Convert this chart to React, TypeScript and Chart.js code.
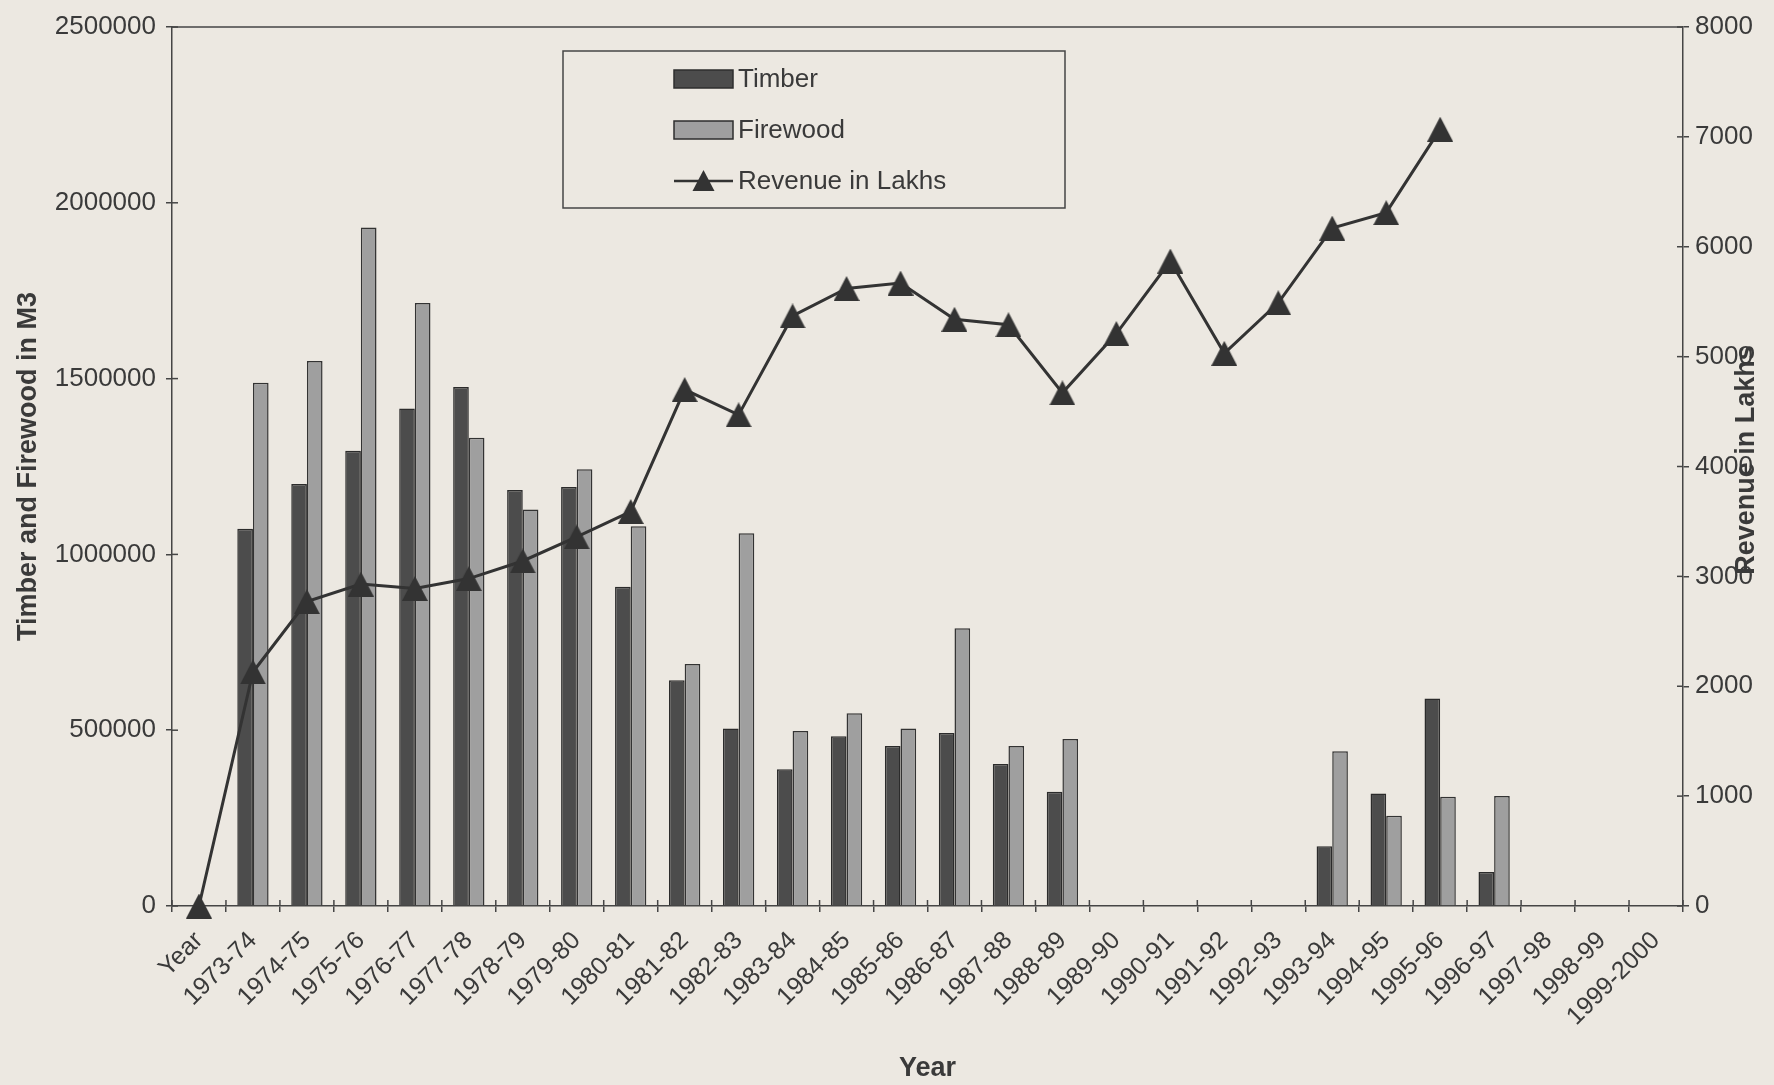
import React, { useEffect, useRef } from 'react';
import { Chart, registerables } from 'chart.js';

Chart.register(...registerables);

const categories = [
  'Year', '1973-74', '1974-75', '1975-76', '1976-77', '1977-78', '1978-79', '1979-80',
  '1980-81', '1981-82', '1982-83', '1983-84', '1984-85', '1985-86', '1986-87', '1987-88',
  '1988-89', '1989-90', '1990-91', '1991-92', '1992-93', '1993-94', '1994-95', '1995-96',
  '1996-97', '1997-98', '1998-99', '1999-2000',
];

const timber = [
  0, 1073000, 1200000, 1295000, 1415000, 1476000, 1183000, 1192000,
  908000, 642000, 505000, 389000, 483000, 455000, 492000, 404000,
  325000, 0, 0, 0, 0, 170000, 320000, 590000,
  97000, 0, 0, 0,
];

const firewood = [
  0, 1488000, 1550000, 1930000, 1715000, 1332000, 1128000, 1242000,
  1080000, 688000, 1060000, 498000, 548000, 505000, 790000, 455000,
  475000, 0, 0, 0, 0, 440000, 257000, 311000,
  313000, 0, 0, 0,
];

const revenue = [
  0, 2130, 2770, 2930, 2890, 2980, 3140, 3360,
  3590, 4700, 4470, 5370, 5620, 5670, 5340, 5290,
  4670, 5210, 5870, 5030, 5490, 6170, 6310, 7070,
  null, null, null, null,
];

const leftTitle = 'Timber and Firewood in M3';
const rightTitle = 'Revenue in Lakhs';
const xTitle = 'Year';

const FONT = '"Liberation Sans", Arial, sans-serif';
const TEXT = '#3a3a3a';
const AXIS = '#454545';
const TIMBER_COLOR = '#4c4c4c';
const FIREWOOD_COLOR = '#9f9f9f';
const LINE_COLOR = '#333333';
const PAPER = '#ece8e1';

function makeTriangle(w: number, h: number): HTMLCanvasElement {
  const c = document.createElement('canvas');
  c.width = w;
  c.height = h;
  const g = c.getContext('2d')!;
  g.fillStyle = LINE_COLOR;
  g.beginPath();
  g.moveTo(w / 2, 0);
  g.lineTo(w, h);
  g.lineTo(0, h);
  g.closePath();
  g.fill();
  return c;
}

const decorPlugin = {
  id: 'decor',
  afterDraw(chart: any) {
    const { ctx, chartArea: a, scales } = chart;
    ctx.save();
    ctx.strokeStyle = AXIS;
    ctx.lineWidth = 1.5;
    const seg = (x1: number, y1: number, x2: number, y2: number) => {
      ctx.beginPath();
      ctx.moveTo(x1, y1);
      ctx.lineTo(x2, y2);
      ctx.stroke();
    };
    // top border of plot
    seg(a.left, a.top, a.right, a.top);
    // inner halves of tick marks
    const xs = scales.x;
    const n = categories.length;
    const step = xs.getPixelForValue(1) - xs.getPixelForValue(0);
    for (let i = 0; i <= n; i++) {
      const px = xs.getPixelForValue(0) - step / 2 + i * step;
      seg(px, a.bottom, px, a.bottom - 6);
    }
    scales.y.ticks.forEach((t: any) => {
      const py = scales.y.getPixelForValue(t.value);
      seg(a.left, py, a.left + 6, py);
    });
    scales.y1.ticks.forEach((t: any) => {
      const py = scales.y1.getPixelForValue(t.value);
      seg(a.right - 6, py, a.right, py);
    });

    // right axis title (reads bottom to top)
    ctx.fillStyle = TEXT;
    ctx.font = `bold 27px ${FONT}`;
    ctx.textAlign = 'center';
    ctx.textBaseline = 'middle';
    ctx.save();
    ctx.translate(1747, 460);
    ctx.rotate(-Math.PI / 2);
    ctx.fillText(rightTitle, 0, 0);
    ctx.restore();

    // legend box
    const bx = 563, by = 51, bw = 502, bh = 157;
    ctx.lineWidth = 1.5;
    ctx.strokeStyle = AXIS;
    ctx.strokeRect(bx, by, bw, bh);
    const ds = chart.data.datasets;
    const rows = [79, 130, 181];
    const sx = 674, sw = 59, sh = 18;
    ctx.font = `26px ${FONT}`;
    ctx.textAlign = 'left';
    ctx.textBaseline = 'middle';
    ds.forEach((d: any, i: number) => {
      const cy = rows[i];
      if (d.type === 'line') {
        ctx.strokeStyle = LINE_COLOR;
        ctx.lineWidth = 2.5;
        seg(sx, cy, sx + sw, cy);
        ctx.fillStyle = LINE_COLOR;
        ctx.beginPath();
        ctx.moveTo(sx + sw / 2, cy - 11);
        ctx.lineTo(sx + sw / 2 + 11, cy + 10);
        ctx.lineTo(sx + sw / 2 - 11, cy + 10);
        ctx.closePath();
        ctx.fill();
      } else {
        ctx.fillStyle = d.backgroundColor;
        ctx.fillRect(sx, cy - sh / 2, sw, sh);
        ctx.strokeStyle = '#2e2e2e';
        ctx.lineWidth = 1.5;
        ctx.strokeRect(sx, cy - sh / 2, sw, sh);
      }
      ctx.fillStyle = TEXT;
      ctx.fillText(d.label, 738, cy + 1);
    });
    ctx.restore();
  },
};

export default function App() {
  const ref = useRef<HTMLCanvasElement | null>(null);

  useEffect(() => {
    if (!ref.current) return;
    const tri = makeTriangle(26, 25);
    const chart = new Chart(ref.current, {
      type: 'bar',
      data: {
        labels: categories,
        datasets: [
          {
            type: 'bar',
            label: 'Timber',
            data: timber,
            backgroundColor: TIMBER_COLOR,
            borderColor: '#2b2b2b',
            borderWidth: 1.5,
            yAxisID: 'y',
            order: 1,
            categoryPercentage: 0.58,
            barPercentage: 1.0,
          },
          {
            type: 'bar',
            label: 'Firewood',
            data: firewood,
            backgroundColor: FIREWOOD_COLOR,
            borderColor: '#333333',
            borderWidth: 1.5,
            yAxisID: 'y',
            order: 1,
            categoryPercentage: 0.58,
            barPercentage: 1.0,
          },
          {
            type: 'line',
            label: 'Revenue in Lakhs',
            data: revenue,
            borderColor: LINE_COLOR,
            borderWidth: 3,
            backgroundColor: LINE_COLOR,
            pointStyle: tri,
            pointRadius: 13,
            pointBackgroundColor: LINE_COLOR,
            pointBorderColor: LINE_COLOR,
            tension: 0,
            spanGaps: false,
            clip: false,
            yAxisID: 'y1',
            order: 0,
          } as any,
        ],
      },
      options: {
        responsive: false,
        animation: false,
        events: [],
        layout: { padding: { top: 27, right: 0, bottom: 0, left: 0 } },
        plugins: {
          legend: { display: false },
          tooltip: { enabled: false },
        },
        scales: {
          x: {
            offset: true,
            grid: {
              offset: true,
              drawOnChartArea: false,
              drawTicks: true,
              tickLength: 6,
              color: AXIS,
              lineWidth: 1.5,
            },
            border: { display: true, color: AXIS, width: 1.5 },
            ticks: {
              autoSkip: false,
              minRotation: 45,
              maxRotation: 45,
              padding: 14,
              color: TEXT,
              font: { family: FONT, size: 25 },
            },
            title: {
              display: true,
              text: xTitle,
              color: TEXT,
              font: { family: FONT, size: 27, weight: 'bold' },
              padding: { top: 0, bottom: 0 },
            },
            afterFit: (s: any) => { s.height = 179; },
          },
          y: {
            position: 'left',
            min: 0,
            max: 2500000,
            ticks: {
              stepSize: 500000,
              color: TEXT,
              padding: 10,
              font: { family: FONT, size: 26 },
              callback: (v: any) => String(v),
            },
            grid: {
              drawOnChartArea: false,
              drawTicks: true,
              tickLength: 6,
              color: AXIS,
              lineWidth: 1.5,
            },
            border: { display: true, color: AXIS, width: 1.5 },
            title: {
              display: true,
              text: leftTitle,
              color: TEXT,
              font: { family: FONT, size: 27, weight: 'bold' },
              padding: { top: 12, bottom: 0 },
            },
            afterFit: (s: any) => { s.width = 172; },
          },
          y1: {
            position: 'right',
            min: 0,
            max: 8000,
            ticks: {
              stepSize: 1000,
              color: TEXT,
              padding: 6,
              font: { family: FONT, size: 26 },
              callback: (v: any) => String(v),
            },
            grid: {
              drawOnChartArea: false,
              drawTicks: true,
              tickLength: 6,
              color: AXIS,
              lineWidth: 1.5,
            },
            border: { display: true, color: AXIS, width: 1.5 },
            afterFit: (s: any) => { s.width = 91; },
          },
        },
      },
      plugins: [decorPlugin],
    } as any);
    return () => chart.destroy();
  }, []);

  return (
    <div
      style={{
        position: 'fixed',
        left: 0,
        top: 0,
        width: 1774,
        height: 1085,
        background: PAPER,
      }}
    >
      <canvas ref={ref} width={1774} height={1085} style={{ display: 'block' }} />
    </div>
  );
}
